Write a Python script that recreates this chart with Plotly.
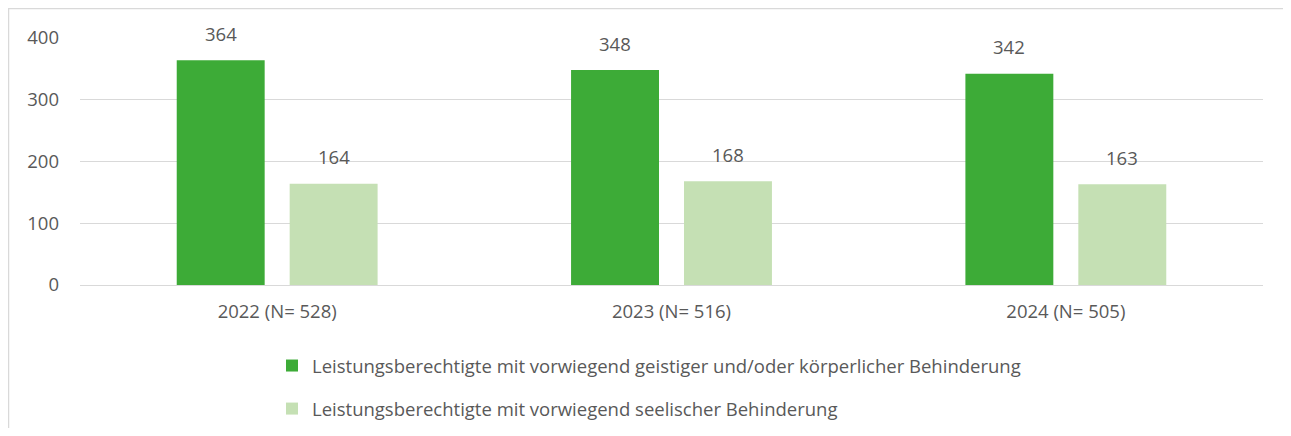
import plotly.graph_objects as go

categories = ["2022 (N= 528)", "2023 (N= 516)", "2024 (N= 505)"]
series_names = [
    "Leistungsberechtigte mit vorwiegend geistiger und/oder körperlicher Behinderung",
    "Leistungsberechtigte mit vorwiegend seelischer Behinderung",
]
values_geistig = [364, 348, 342]
values_seelisch = [164, 168, 163]
y_ticks = [0, 100, 200, 300, 400]

# figure is placed at page offset (8, 8) by the default body margin
W, H = 1275, 420
ml, mr, mt, mb = 72, 20, 30, 143
pw = W - ml - mr
ph = H - mt - mb
cat_w = pw / 3

bw = 0.223
gap = 0.0317
colors = ["#3dab37", "#c5e0b4"]
font = "Open Sans"
fs = 18.5
tc = "#595959"

fig = go.Figure()
for i, (name, vals) in enumerate(zip(series_names, [values_geistig, values_seelisch])):
    off = -(gap + bw) if i == 0 else gap
    fig.add_trace(go.Bar(
        x=categories, y=vals, name=name, width=bw, offset=off,
        marker=dict(color=colors[i], line=dict(width=0)),
        legendgroup=f"g{i}",
    ))
    center = off + bw / 2
    for c, v in zip(categories, vals):
        fig.add_annotation(
            x=c, y=v, xref="x", yref="y", text=str(v), showarrow=False,
            xshift=center * cat_w, yshift=27, yanchor="middle",
            font=dict(family=font, size=fs, color=tc),
        )

# chart border
fig.add_shape(type="rect", xref="paper", yref="paper",
              x0=(0.6 - ml) / pw, x1=(W + 20 - ml) / pw,
              y0=-(H + 20 - mt - ph) / ph, y1=(H - 0.6 - mb) / ph,
              line=dict(color="#d9d9d9", width=1.3), fillcolor="rgba(0,0,0,0)", layer="below")

fig.update_layout(
    width=W, height=H,
    margin=dict(l=ml, r=mr, t=mt, b=mb, autoexpand=False),
    paper_bgcolor="white", plot_bgcolor="white",
    font=dict(family=font, size=fs, color=tc),
    showlegend=True,
    legend=dict(
        orientation="v", x=(264 - ml) / pw, xanchor="left",
        y=-(339 - mt - ph) / ph, yanchor="top",
        font=dict(family=font, size=fs, color=tc),
        tracegroupgap=16, itemwidth=30, bgcolor="rgba(0,0,0,0)",
    ),
    xaxis=dict(
        showgrid=False, showline=True, linecolor="#d9d9d9", linewidth=1.3,
        ticks="", ticklabelstandoff=10, tickfont=dict(family=font, size=fs, color=tc),
    ),
    yaxis=dict(
        range=[0, 400], tickvals=y_ticks, showgrid=True, gridcolor="#d9d9d9", gridwidth=1.3,
        zeroline=True, zerolinecolor="#d9d9d9", zerolinewidth=1.3,
        ticks="", ticklabelstandoff=20, tickfont=dict(family=font, size=fs, color=tc),
    ),
)

fig.write_html("out.html")
